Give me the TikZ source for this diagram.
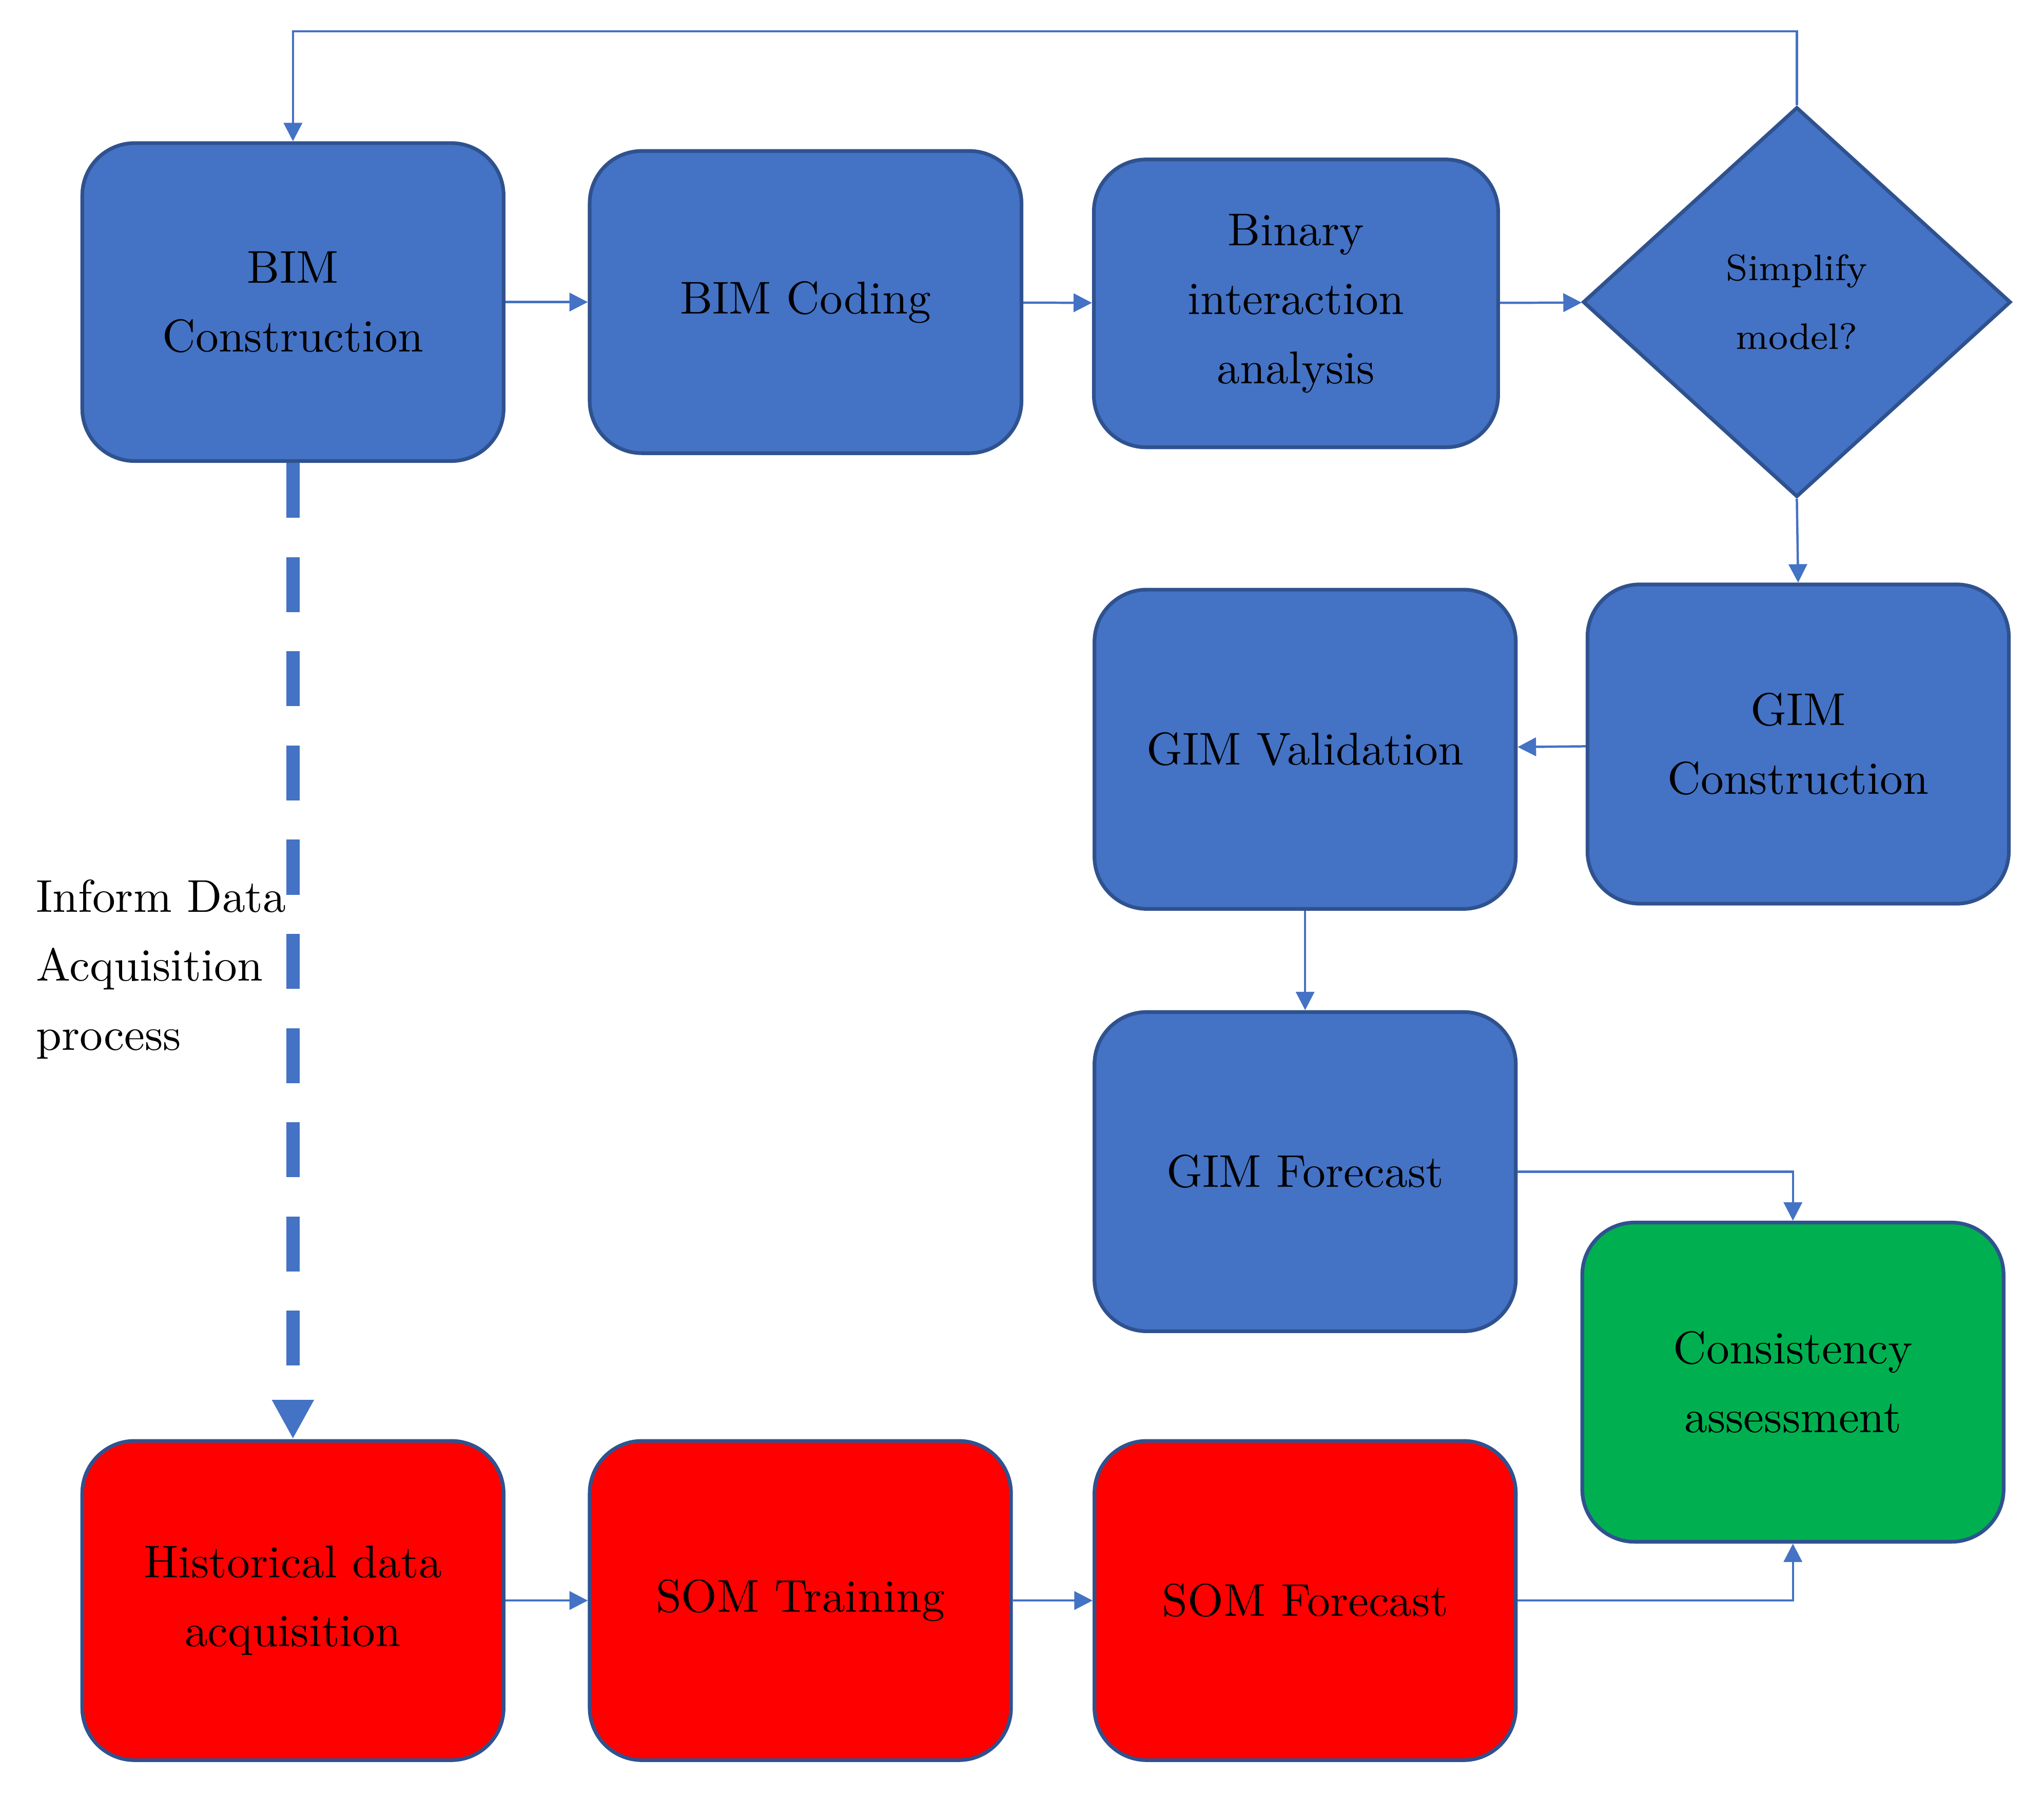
\documentclass[tikz,border=0pt]{standalone}
\usetikzlibrary{shapes.geometric,arrows.meta}
\definecolor{bf}{HTML}{4472C4}
\definecolor{bd}{HTML}{2F528F}
\definecolor{rf}{HTML}{FF0000}
\definecolor{gf}{HTML}{00B050}
\begin{document}
\begin{tikzpicture}[x=0.01cm,y=-0.01cm,
 box/.style={draw=bd,line width=0.8pt,rounded corners=0.4cm,minimum width=3.22cm,minimum height=2.44cm,align=center,font=\fontsize{10}{15}\selectfont,fill=bf},
 red/.style={box,fill=rf}, grn/.style={box,fill=gf},
 ar/.style={draw=bf,line width=0.5pt,-{Triangle[length=4pt,width=4pt]}}]
\useasboundingbox (0,0) rectangle (1563,1375);
\node[box,minimum width=3.22cm,minimum height=2.43cm] (bim) at (224,231) {BIM\\Construction};
\node[box,minimum width=3.30cm,minimum height=2.31cm] (cod) at (616,231) {BIM Coding};
\node[box,minimum width=3.09cm,minimum height=2.20cm] (bin) at (991,232) {Binary\\interaction\\analysis};
\node[diamond,draw=bd,line width=0.8pt,fill=bf,minimum width=3.27cm,minimum height=2.98cm,inner sep=0pt,align=center,font=\fontsize{8}{15}\selectfont] (dia) at (1374,231) {Simplify\\model?};
\node[box] (gc) at (1375,569) {GIM\\Construction};
\node[box] (gv) at (998,573) {GIM Validation};
\node[box] (gf) at (998,896) {GIM Forecast};
\node[grn] (ca) at (1371,1057) {Consistency\\assessment};
\node[red] (hd) at (224,1224) {Historical data\\acquisition};
\node[red] (st) at (612,1224) {SOM Training};
\node[red] (sf) at (998,1224) {SOM Forecast};
\node[align=left,anchor=north west,font=\fontsize{10}{15}\selectfont,inner sep=0pt] (lab) at (27,672) {Inform Data\\Acquisition\\process};
\coordinate (c1) at (1374,24); \coordinate (c2) at (224,24);
\draw[ar] (dia.north) -- (c1) -- (c2) -- (bim.north);
\draw[ar] (bim) -- (cod);
\draw[ar] (cod) -- (bin);
\draw[ar] (bin) -- (dia);
\draw[ar] (dia.south) -- (gc.north);
\draw[ar] (gc) -- (gv);
\draw[ar] (gv) -- (gf);
\draw[ar] (gf.east) -| (ca.north);
\draw[ar] (sf.east) -| (ca.south);
\draw[ar] (hd) -- (st);
\draw[ar] (st) -- (sf);
\draw[draw=bf,line width=0.1cm,dash pattern=on 0.42cm off 0.3cm,-{Triangle[length=0.3cm,width=0.3cm]}] (bim.south) -- (hd.north);
\end{tikzpicture}
\end{document}
